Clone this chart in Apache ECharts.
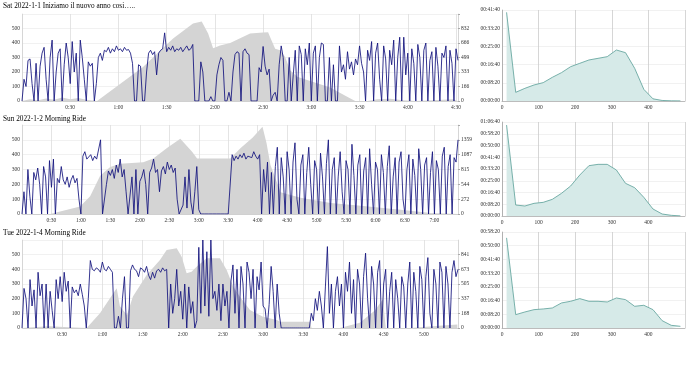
<!DOCTYPE html>
<html><head><meta charset="utf-8">
<script src="https://cdn.jsdelivr.net/npm/echarts@6/dist/echarts.min.js"></script>
<style>html,body{margin:0;padding:0;background:#fff}#c{width:690px;height:383px}</style>
</head><body><div id="c"></div>
<script>
const rideTitles = ['Sat 2022-1-1 Iniziamo il nuovo anno cosi…..', 'Sun 2022-1-2 Morning Ride', 'Tue 2022-1-4 Morning Ride'];

// power sampling step (minutes) and values (W)
const powerStep1 = 1.25;
const power1 = [0,150,100,280,290,120,0,260,0,240,330,370,150,0,300,420,0,200,330,360,0,250,400,300,120,410,200,330,0,420,300,150,0,270,240,260,0,
120,300,330,280,350,340,370,330,360,340,380,350,360,340,370,350,355,330,260,0,
0,250,240,0,0,200,330,350,320,340,180,330,350,360,470,340,370,350,380,340,360,350,370,340,360,380,350,360,390,0,
0,0,270,200,0,0,0,30,0,0,180,250,300,
280,0,0,60,0,200,320,340,330,0,340,360,330,320,
0,0,0,0,
230,200,376,240,180,220,
0,40,60,0,
250,380,300,
0,0,300,0,180,
350,0,380,320,0,360,250,400,0,330,380,0,300,400,390,
0,0,300,0,250,0,0,
380,200,250,150,340,220,270,180,290,250,380,260,200,
0,350,280,410,0,330,400,150,0,380,290,0,350,250,420,0,300,440,0,440,180,330,0,360,260,0,390,300,0,350,400,0,280,340,0,370,240,0,330,300,380,0,350,260,0,360,280];

const powerStep2 = 2;
const power2 = [0,150,0,300,120,0,280,230,310,200,0,320,250,0,360,180,370,0,240,210,320,230,200,250,180,230,260,210,240,100,0,
390,420,370,380,400,360,390,370,380,500,
0,0,200,290,260,300,240,330,280,370,250,300,150,
0,0,250,0,300,0,220,250,300,200,0,
280,310,370,280,300,150,290,320,270,350,300,330,280,310,100,
0,0,60,250,40,300,80,0,150,320,30,0,
0,0,0,0,0,0,0,0,0,0,0,0,0,0,0,
400,360,390,370,400,380,410,370,390,400,380,420,390,370,400,
0,300,150,350,0,280,0,
320,450,0,380,250,0,420,300,0,350,480,100,0,330,400,0,280,450,200,0,
360,300,0,410,250,0,340,500,0,300,380,0,250,420,150,0,360,300,0,470,
260,0,330,400,0,290,380,0,440,200,0,350,300,0,400,280,0,320,460,0,
250,380,0,350,420,100,0,300,400,0,370,260,0,440,300,0,330,380,0,280,
420,0,360,300,0,390,450,0,320,400,0,380,350,500];

const powerStep3 = 1.5;
const power3 = [0,270,200,0,330,150,260,0,380,220,300,0,300,0,250,120,0,330,200,350,180,380,250,320,0,280,240,260,220,300,230,150,0,200,
460,400,390,410,400,380,450,400,390,420,400,380,
0,0,80,0,200,350,0,0,
390,430,400,390,350,410,400,380,420,360,330,380,340,390,400,380,410,390,400,
0,300,100,200,400,150,250,60,300,0,280,100,180,0,50,
550,100,600,150,520,80,600,200,250,120,300,50,300,150,250,0,
320,430,100,400,0,420,300,0,450,380,200,400,0,350,260,450,150,130,0,160,420,250,0,300,100,0,
0,0,0,0,0,0,0,0,0,0,0,0,0,0,
100,50,200,120,250,150,0,280,555,100,300,0,250,350,150,300,0,380,250,450,
100,330,0,400,300,0,350,510,200,0,420,300,0,380,460,0,300,400,0,250,
380,0,330,200,0,350,280,0,300,450,0,380,250,0,420,330,0,350,480,100,
0,400,300,0,450,380,0,420,300,0,380,460,350,400];

// elevation (minutes, metres)
const elevTime1 = [0,5,10,15,20,25,30,35,40,46.7,75.3,94,106.4,111.8,115.8,118.9,123.2,129.5,135.7,141.9,150,153.1,154.4,157.5,160.6,163.7,166.8,171.2,183.6,191.7,202.3,207.3,215,221,229,237,245,262,268,271];
const elevVal1  = [0,20,10,30,15,40,20,35,15,0,390,717,888,912,775,604,638,665,720,775,786,790,733,600,581,505,353,277,205,156,49,0,0,20,25,10,0,15,20,0];
const elevTime2 = [0,28.6,59.2,69.4,79.6,89.8,100,123.5,133.7,148,161.2,163,173.2,178.3,181.6,212.2,222.4,235,244.9,249,253,263.3,283.7,314.3,344.9,385.7,416.3,444];
const elevVal2  = [0,0,137,325,701,859,921,950,1015,1216,1378,1370,1141,1015,1015,1015,1203,1400,1600,1300,900,400,300,200,150,80,20,0];
const elevTime3 = [0,20,35,48.3,58.2,65.7,70.7,73.1,78.4,82.8,93.1,103,108,115.5,119.2,122.9,126.6,130.4,137.8,147.8,152.8,157.7,162.7,170.2,179.9,190.3,192.6,214.9,216.2,237.3,252.2,263.4,269.4,271.6,290,314,325];
const elevVal3  = [0,20,10,0,168,340,455,250,150,360,608,780,895,914,818,627,646,703,799,799,665,474,359,206,130,92,72,72,0,0,60,200,330,0,0,30,40];

const rideMinutes = [271.25, 444, 325.5];
const rightTicks1 = ['0','166','333','499','666','832'];
const rightTicks2 = ['0','272','544','815','1087','1359'];
const rightTicks3 = ['0','168','337','505','673','841'];

// power histogram: bin centres (W) and time in bin (s)
const histBins = [12.5,37.5,62.5,87.5,112.5,137.5,162.5,187.5,212.5,237.5,262.5,287.5,312.5,337.5,362.5,387.5,412.5,437.5,462.5,487.5];
const hist1 = [2436,238,348,440,504,650,779,943,1035,1127,1172,1218,1401,1328,898,320,60,15,5,3];
const hist2 = [3871,468,425,539,581,709,964,1276,1744,2141,2198,2198,1957,1390,1205,794,298,85,28,5];
const hist3 = [3286,487,584,669,694,730,913,974,1071,974,974,949,1095,1034,791,828,669,268,97,61];
const histMax = [2500, 4000, 3500];

const FONT = 'Liberation Serif';
const powers = [[power1,powerStep1],[power2,powerStep2],[power3,powerStep3]];
const elevs = [[elevTime1,elevVal1],[elevTime2,elevVal2],[elevTime3,elevVal3]];
const rights = [rightTicks1,rightTicks2,rightTicks3];
const hists = [hist1,hist2,hist3];

const mainLayout = [{top:14,height:87},{top:125,height:89},{top:240,height:88}];
const histLayout = [{top:10,height:91},{top:122,height:94},{top:232,height:96}];
const titleTops = [3,116,230];

function hm(v){const h=Math.floor(v/60), m=Math.round(v%60); return h+':'+(m<10?'0':'')+m;}
function hms(s){const h=Math.floor(s/3600), m=Math.floor((s%3600)/60), ss=Math.round(s%60);
  const p=n=>(n<10?'0':'')+n; return p(h)+':'+p(m)+':'+p(ss);}

const lab = {fontFamily:FONT, fontSize:5.5, color:'#333'};
const grid=[], xAxis=[], yAxis=[], series=[], title=[];
for(let p=0;p<3;p++){
  title.push({text:rideTitles[p], left:3, top:titleTops[p], padding:0, textStyle:{fontFamily:FONT,fontSize:7.3,fontWeight:'normal',color:'#000'}});
  grid.push({left:22, width:436, top:mainLayout[p].top, height:mainLayout[p].height, outerBoundsMode:'none', containLabel:false});
}
for(let p=0;p<3;p++){
  grid.push({left:502, width:183, top:histLayout[p].top, height:histLayout[p].height, outerBoundsMode:'none', containLabel:false});
}
for(let p=0;p<3;p++){
  xAxis.push({type:'value', gridIndex:p, min:0, max:rideMinutes[p], interval:30,
    axisLine:{show:true,lineStyle:{color:'#bbb',width:0.6}}, axisTick:{show:false},
    splitLine:{show:true,lineStyle:{color:'#ddd',width:0.8}},
    axisLabel:{...lab, margin:4, showMinLabel:false, showMaxLabel:false, formatter:hm}});
}
for(let p=0;p<3;p++){
  xAxis.push({type:'value', gridIndex:3+p, min:0, max:500, interval:100,
    axisLine:{show:true,lineStyle:{color:'#999',width:0.6}}, axisTick:{show:false},
    splitLine:{show:true,lineStyle:{color:'#ccc',width:0.8}},
    axisLabel:{...lab, margin:4, showMaxLabel:false}});
}
for(let p=0;p<3;p++){
  yAxis.push({type:'value', gridIndex:p, position:'left', min:0, max:600, interval:100,
    axisLine:{show:true,lineStyle:{color:'#ccc',width:0.6}}, axisTick:{show:false},
    splitLine:{show:true,lineStyle:{color:'#eee',width:0.8}},
    axisLabel:{...lab, margin:2, showMaxLabel:false}});
}
for(let p=0;p<3;p++){
  const ticks = rights[p];
  const step = Number(ticks[5])/5;
  yAxis.push({type:'value', gridIndex:p, position:'right', min:0, max:step*6, interval:step,
    axisLine:{show:true,lineStyle:{color:'#ccc',width:0.6}}, axisTick:{show:true,length:2,lineStyle:{color:'#aaa'}},
    splitLine:{show:false},
    axisLabel:{...lab, margin:3, showMaxLabel:false, formatter:v=>{const k=Math.round(v/step); return ticks[k]!==undefined?ticks[k]:'';}}});
}
for(let p=0;p<3;p++){
  yAxis.push({type:'value', gridIndex:3+p, min:0, max:histMax[p], interval:500,
    axisLine:{show:true,lineStyle:{color:'#999',width:0.6}}, axisTick:{show:false},
    splitLine:{show:true,lineStyle:{color:'#eee',width:0.8}},
    axisLabel:{...lab, margin:2, formatter:hms}});
}
for(let p=0;p<3;p++){
  const [et,ev]=elevs[p];
  series.push({type:'line', xAxisIndex:p, yAxisIndex:3+p, data:et.map((t,i)=>[t,ev[i]]),
    showSymbol:false, silent:true, z:1, lineStyle:{width:0}, areaStyle:{color:'#d4d4d4',opacity:1}});
  const [pw,st]=powers[p];
  series.push({type:'line', xAxisIndex:p, yAxisIndex:p, data:pw.map((v,i)=>[i*st,v]),
    showSymbol:false, silent:true, z:2, lineStyle:{color:'rgba(18,18,125,0.85)',width:1}});
  series.push({type:'line', xAxisIndex:3+p, yAxisIndex:6+p, data:histBins.map((b,i)=>[b,hists[p][i]]),
    showSymbol:false, silent:true, z:2, lineStyle:{color:'#6aa8a2',width:0.9}, areaStyle:{color:'#d6eae8',opacity:1}});
}
const chart = echarts.init(document.getElementById('c'));
chart.setOption({animation:false, backgroundColor:'#fff', title, grid, xAxis, yAxis, series});
</script>
</body></html>
